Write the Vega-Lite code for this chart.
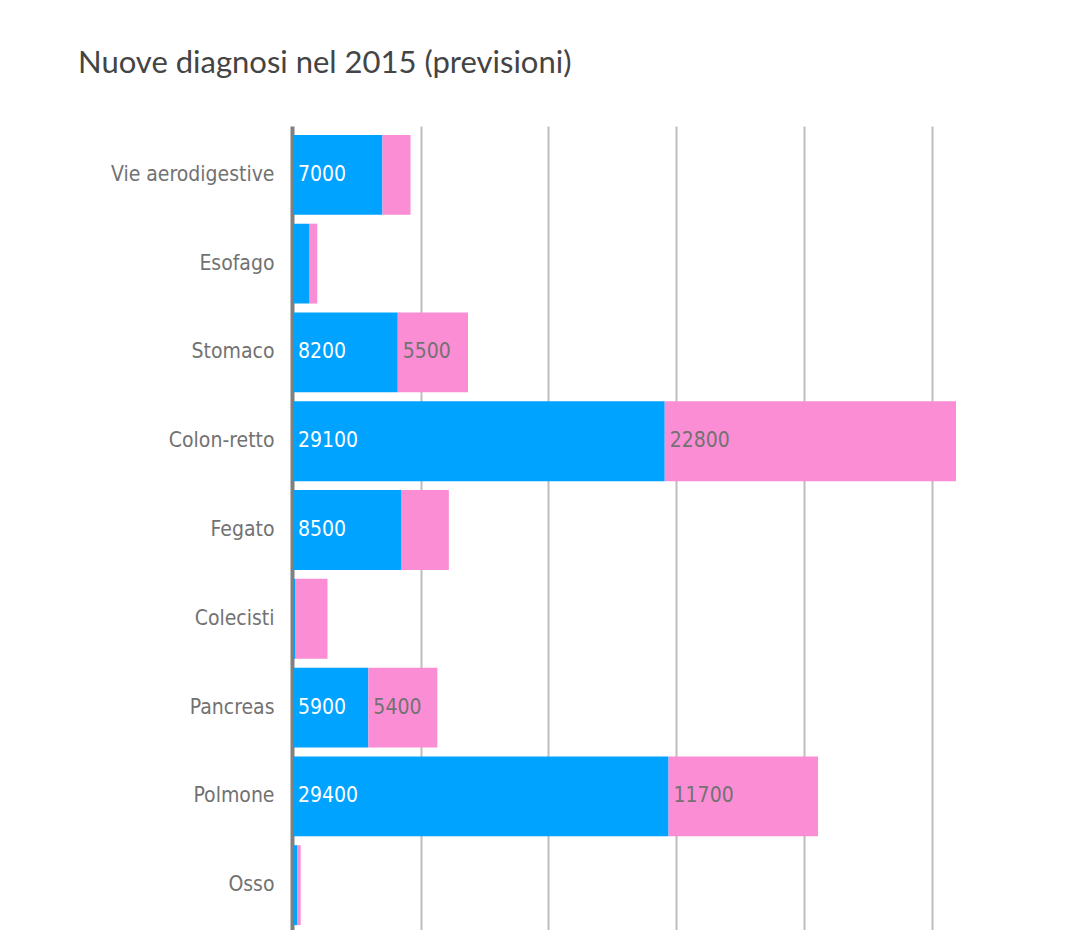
{
  "$schema": "https://vega.github.io/schema/vega-lite/v6.json",
  "width": 663,
  "height": 808,
  "autosize": {"type": "none"},
  "padding": {"left": 293, "top": 126, "right": 0, "bottom": 0},
  "background": "white",
  "config": {"view": {"stroke": null}},
  "title": {
    "text": "Nuove diagnosi nel 2015 (previsioni)",
    "anchor": "start",
    "frame": "group",
    "dx": -215,
    "offset": 46,
    "font": "Lato",
    "fontSize": 31,
    "fontWeight": "normal",
    "color": "#444444"
  },
  "data": {
    "values": [
      {"sede": "Vie aerodigestive", "sesso": "Uomini", "valore": 7000},
      {"sede": "Vie aerodigestive", "sesso": "Donne", "valore": 2200},
      {"sede": "Esofago", "sesso": "Uomini", "valore": 1300},
      {"sede": "Esofago", "sesso": "Donne", "valore": 600},
      {"sede": "Stomaco", "sesso": "Uomini", "valore": 8200},
      {"sede": "Stomaco", "sesso": "Donne", "valore": 5500},
      {"sede": "Colon-retto", "sesso": "Uomini", "valore": 29100},
      {"sede": "Colon-retto", "sesso": "Donne", "valore": 22800},
      {"sede": "Fegato", "sesso": "Uomini", "valore": 8500},
      {"sede": "Fegato", "sesso": "Donne", "valore": 3700},
      {"sede": "Colecisti", "sesso": "Uomini", "valore": 200},
      {"sede": "Colecisti", "sesso": "Donne", "valore": 2500},
      {"sede": "Pancreas", "sesso": "Uomini", "valore": 5900},
      {"sede": "Pancreas", "sesso": "Donne", "valore": 5400},
      {"sede": "Polmone", "sesso": "Uomini", "valore": 29400},
      {"sede": "Polmone", "sesso": "Donne", "valore": 11700},
      {"sede": "Osso", "sesso": "Uomini", "valore": 350},
      {"sede": "Osso", "sesso": "Donne", "valore": 250}
    ]
  },
  "transform": [
    {"calculate": "datum.sesso === 'Uomini' ? 0 : 1", "as": "ordine"},
    {"stack": "valore", "groupby": ["sede"], "sort": [{"field": "ordine", "order": "ascending"}], "as": ["v0", "v1"]}
  ],
  "encoding": {
    "y": {
      "field": "sede",
      "type": "nominal",
      "sort": ["Vie aerodigestive", "Esofago", "Stomaco", "Colon-retto", "Fegato", "Colecisti", "Pancreas", "Polmone", "Osso"],
      "scale": {"paddingInner": 0.1, "paddingOuter": 0.1},
      "axis": {
        "title": null,
        "ticks": false,
        "domainColor": "#808080",
        "domainWidth": 4,
        "offset": 1,
        "labelPadding": 18,
        "labelFont": "DejaVu Sans Condensed, Lato",
        "labelFontSize": 21,
        "labelColor": "#727272",
        "labelLimit": 300
      }
    }
  },
  "layer": [
    {
      "mark": {"type": "bar"},
      "encoding": {
        "x": {
          "field": "v0",
          "type": "quantitative",
          "scale": {"domain": [0, 51900], "nice": false},
          "axis": {
            "title": null,
            "labels": false,
            "ticks": false,
            "domain": false,
            "grid": true,
            "gridColor": "#bdbdbd",
            "gridWidth": 2,
            "values": [10000, 20000, 30000, 40000, 50000]
          }
        },
        "x2": {"field": "v1"},
        "color": {
          "field": "sesso",
          "type": "nominal",
          "scale": {"domain": ["Uomini", "Donne"], "range": ["#00a3ff", "#fb8dd4"]},
          "legend": null
        }
      }
    },
    {
      "transform": [{"filter": "datum.valore >= 5000"}],
      "mark": {"type": "text", "align": "left", "baseline": "middle", "dx": 5, "font": "DejaVu Sans Condensed, Lato", "fontSize": 21},
      "encoding": {
        "x": {"field": "v0", "type": "quantitative"},
        "text": {"field": "valore", "type": "quantitative", "format": "d"},
        "color": {
          "field": "sesso",
          "type": "nominal",
          "scale": {"domain": ["Uomini", "Donne"], "range": ["#ffffff", "#727272"]},
          "legend": null
        }
      }
    }
  ],
  "resolve": {"scale": {"color": "independent"}}
}
